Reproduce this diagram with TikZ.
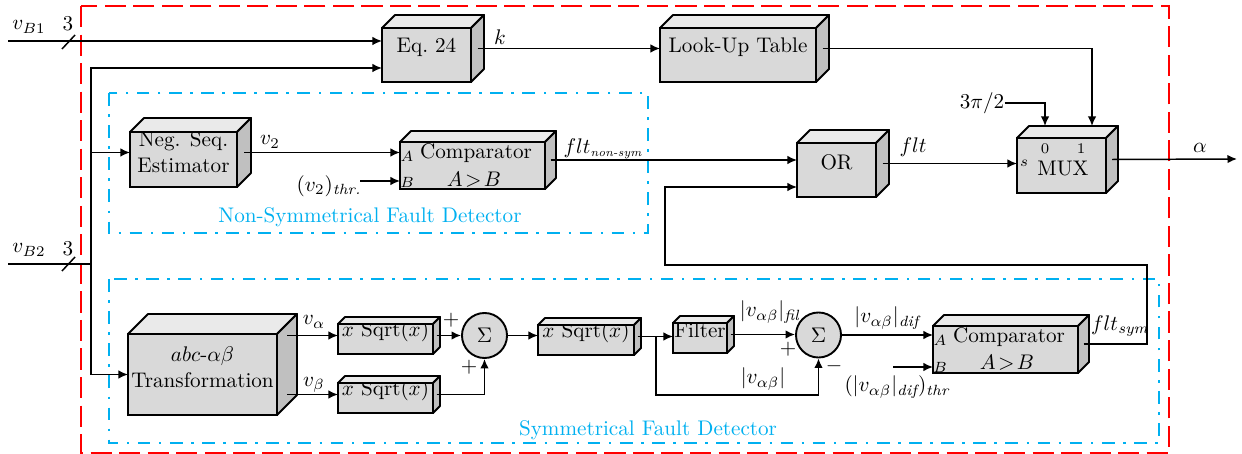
\documentclass[tikz,border=0pt]{standalone}
\usepackage{amsmath}
\usetikzlibrary{fit,calc,arrows.meta}
\definecolor{frontc}{RGB}{217,217,217}
\definecolor{topc}{RGB}{234,234,234}
\definecolor{sidec}{RGB}{192,192,192}
\definecolor{fdblue}{RGB}{0,176,240}
\tikzset{
 face/.style={draw, line width=0.9pt, fill=frontc, inner sep=0pt, outer sep=0pt, align=center},
 topf/.style={draw, line width=0.9pt, fill=topc, line join=round},
 sidef/.style={draw, line width=0.9pt, fill=sidec, line join=round},
 conn/.style={line width=0.7pt},
 arr/.style={conn, -{Latex[length=4.5pt,width=4pt]}},
 sumnode/.style={circle, draw, line width=0.9pt, fill=frontc, minimum size=21.3pt, inner sep=0pt},
 lbl/.style={inner sep=0pt},
 small/.style={inner sep=0pt, font=\scriptsize},
 redframe/.style={draw=red, line width=1.2pt, dash pattern=on 10pt off 3.5pt},
 blueframe/.style={draw=fdblue, line width=1pt, dash pattern=on 6pt off 4pt on 1.2pt off 4pt},
 bluetext/.style={text=fdblue, inner sep=0pt},
}
\newcommand\mkcube[2]{%
 \filldraw[topf] (#1.north west) -- ([shift={(#2,-#2)}]#1.north west) -- ([shift={(#2,-#2)}]#1.north east) -- (#1.north east) -- cycle;
 \filldraw[sidef] (#1.north east) -- ([shift={(#2,-#2)}]#1.north east) -- ([shift={(#2,-#2)}]#1.south east) -- (#1.south east) -- cycle;
 \coordinate (#1-s) at ([shift={(#2/2,-#2/2)}]#1.east);
 \coordinate (#1-b) at ([shift={(#2,-#2)}]#1.north);
}
\newcommand\tinysub[1]{\text{\fontsize{5.5}{6}\selectfont\itshape #1}}
\begin{document}
\begin{tikzpicture}[x=0.473pt,y=-0.473pt]
\useasboundingbox (0,0) rectangle (1242,454);
% frames
\draw[redframe] (81,6) rectangle (1169,453);
\draw[blueframe] (109,93) rectangle (648,233);
\draw[blueframe] (109,279) rectangle (1159,443);
\node[bluetext] (nsfd) at (370,217) {Non-Symmetrical Fault Detector};
\node[bluetext] (sfd) at (648,430) {Symmetrical Fault Detector};
% blocks
\node[face, fit={(382,28) (471,82)}] (eq) {Eq.~24};
\mkcube{eq}{13}
\node[face, fit={(660,28) (816,82)}] (lut) {Look-Up Table};
\mkcube{lut}{13}
\node[face, fit={(1017,138) (1106,193)}] (mux) {};
\mkcube{mux}{12}
\node[lbl] (muxt) at (1063,169) {MUX};
\node[small] (mux0) at (1045,149) {0};
\node[small] (mux1) at (1081,149) {1};
\node[small] (muxs) at (1024,163) {$s$};
\node[face, fit={(797,143) (876,197)}] (or) {OR};
\mkcube{or}{13}
\node[face, fit={(130,132) (237,187)}] (neg) {Neg. Seq.\\Estimator};
\mkcube{neg}{14}
\node[face, fit={(400,142) (545,189)}] (cmp1) {};
\mkcube{cmp1}{11}
\node[lbl] (cmp1t) at (476,153) {Comparator};
\node[lbl] (cmp1r) at (474,180) {$A\!>\!B$};
\node[small] (cmp1a) at (407,156) {$A$};
\node[small] (cmp1b) at (407,182) {$B$};
\node[face, fit={(128,334) (277,415)}] (abc) {$abc\text{-}\alpha\beta$\\Transformation};
\mkcube{abc}{20}
\node[face, fit={(338,324) (433,354)}] (sq1) {$x$ Sqrt$(x)$};
\mkcube{sq1}{7}
\node[face, fit={(338,383) (433,413)}] (sq2) {$x$ Sqrt$(x)$};
\mkcube{sq2}{7}
\node[sumnode] (s1) at (484.5,335.5) {$\Sigma$};
\node[face, fit={(538,325) (634,355)}] (sq3) {$x$ Sqrt$(x)$};
\mkcube{sq3}{7}
\node[face, fit={(673,323) (727,353)}] (filt) {Filter};
\mkcube{filt}{7}
\node[sumnode] (s2) at (818.5,335) {$\Sigma$};
\node[face, fit={(933,326) (1078,373)}] (cmp2) {};
\mkcube{cmp2}{11}
\node[lbl] (cmp2t) at (1009,337) {Comparator};
\node[lbl] (cmp2r) at (1007,363) {$A\!>\!B$};
\node[small] (cmp2a) at (940,340) {$A$};
\node[small] (cmp2b) at (940,367) {$B$};
% labels
\node[lbl] (lvb1) at (29,27) {$v_{B1}$};
\node[lbl] (l3a) at (68,24) {3};
\node[lbl] (lvb2) at (29,250) {$v_{B2}$};
\node[lbl] (l3b) at (68,249) {3};
\node[lbl] (lk) at (500,37) {$k$};
\node[lbl] (lv2) at (270,142) {$v_2$};
\node[lbl, anchor=east] (lthr1) at (362,186) {$(v_2)_{\textit{thr.}}$};
\node[lbl] (lfns) at (603,149) {$flt_{\tinysub{non-sym}}$};
\node[lbl] (lflt) at (913,147) {$flt$};
\node[lbl] (lpi) at (982,103) {$3\pi/2$};
\node[lbl] (lal) at (1200,148) {$\alpha$};
\node[lbl] (lva) at (314,322) {$v_\alpha$};
\node[lbl] (lvbt) at (314,385) {$v_\beta$};
\node[lbl] (p1) at (451,320) {$+$};
\node[lbl] (p2) at (469,367) {$+$};
\node[lbl] (lfil) at (770,312) {$|v_{\alpha\beta}|_{\textit{fil}}$};
\node[lbl] (p3) at (788,349) {$+$};
\node[lbl] (lvab) at (763,379) {$|v_{\alpha\beta}|$};
\node[lbl] (m1) at (834,366) {$-$};
\node[lbl] (ldif) at (887,318) {$|v_{\alpha\beta}|_{\textit{dif}}$};
\node[lbl] (lthr2) at (897,387) {$(|v_{\alpha\beta}|_{\textit{dif}})_{\textit{thr}}$};
\node[lbl] (lfsym) at (1120,326) {$flt_{\textit{sym}}$};
% coordinates
\coordinate (vb1) at (8,41);
\coordinate (vb2) at (8,264);
\coordinate (bus) at (91,264);
\coordinate (thr1) at (360,181);
\coordinate (thr2) at (893,367);
\coordinate (fb1) at (1147,265);
\coordinate (fb2) at (665,265);
\coordinate (aout) at (1237,159);
\coordinate (br) at (656,336.5);
\coordinate (brd) at (656,395);
\coordinate (sl1a) at (62,49);
\coordinate (sl1b) at (75,35);
\coordinate (sl2a) at (62,271);
\coordinate (sl2b) at (75,257);
% connectors
\draw[arr] (vb1) -- (eq.west |- vb1);
\draw[conn] (sl1a) -- (sl1b);
\draw[conn] (vb2) -- (bus);
\draw[conn] (sl2a) -- (sl2b);
\draw[arr] (bus) |- ($(eq.west)+(0,13)$);
\draw[arr] (bus) |- (neg.west |- neg-s);
\draw[arr] (bus) |- (abc.west);
\draw[arr] (eq-s) -- (lut.west |- eq-s);
\draw[arr] (lut-s) -| ($(mux-b)+(18.5,0)$);
\draw[arr] (lpi.east) -| ($(mux-b)+(-28.5,0)$);
\draw[arr] (neg-s) -- (cmp1.west |- neg-s);
\draw[arr] (thr1) -- (cmp1.west |- thr1);
\draw[arr] (cmp1-s) -- (or.west |- cmp1-s);
\draw[arr] (or-s) -- (mux.west |- or-s);
\draw[arr] (mux-s) -- (aout);
\draw[arr] (cmp2-s) -| (fb1) -- (fb2) |- ($(or.west)+(0,17)$);
\draw[arr] (abc-s |- sq1-s) -- (sq1.west |- sq1-s);
\draw[arr] (abc-s |- sq2-s) -- (sq2.west |- sq2-s);
\draw[arr] (sq1-s) -- (s1.west |- sq1-s);
\draw[arr] (sq2-s) -| (s1.south);
\draw[arr] (s1.east) -- (sq3.west |- s1.east);
\draw[arr] (sq3-s) -- (filt.west |- sq3-s);
\draw[arr] (br) -- (brd) -| (s2.south);
\draw[arr] (filt-s) -- (s2.west |- filt-s);
\draw[arr] (s2.east) -- (cmp2.west |- s2.east);
\draw[arr] (thr2) -- (cmp2.west |- thr2);
\end{tikzpicture}
\end{document}
